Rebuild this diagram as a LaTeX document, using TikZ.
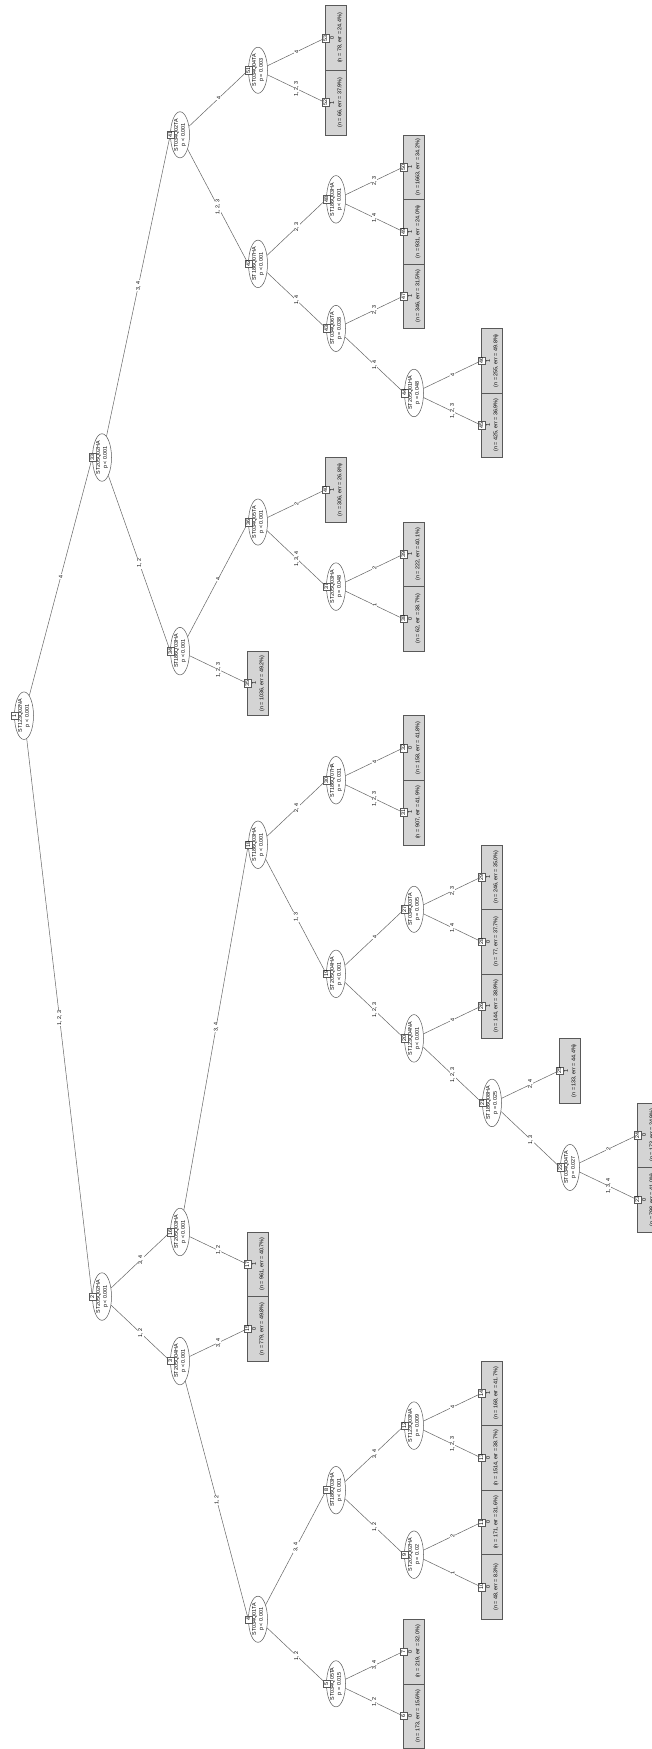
\documentclass[tikz,border=0pt]{standalone}
\usepackage{fontspec}
\setmainfont{Liberation Sans}
\usetikzlibrary{shapes.geometric}
\tikzset{
  innernode/.style={ellipse, draw=black!65, fill=white, line width=0.5pt, minimum width=45pt, minimum height=19pt, inner sep=0pt, rotate=90, align=center, font=\fontsize{5.4}{6.9}\selectfont},
  leafbox/.style={rectangle, draw=black!65, fill=black!17, line width=0.5pt, minimum width=64.54pt, minimum height=21pt, inner sep=0pt, rotate=90},
  idbox/.style={rectangle, draw=black!65, fill=white, line width=0.5pt, inner sep=0.8pt, minimum height=7pt, minimum width=7pt, rotate=90, font=\fontsize{5.4}{6}\selectfont},
  edgeline/.style={draw=black!60, line width=0.5pt},
  elabel/.style={fill=white, inner sep=0.6pt, rotate=90, font=\fontsize{5.4}{6}\selectfont},
  ltext/.style={rotate=90, inner sep=0pt, font=\fontsize{5.4}{6}\selectfont},
}
\newcommand\Inn[5]{\node[innernode] (n#1) at ({24+78*#2},{-(5.73+64.54*#3)}) {#4\\#5};}
\newcommand\Lf[6]{\node[leafbox] (n#1) at ({24+78*#2},{-(38+64.54*#3)}) {};
  \node[ltext] at ({24+78*#2-4},{-(38+64.54*#3)}) {#4};
  \node[ltext] at ({24+78*#2+4},{-(38+64.54*#3)}) {(n = #5, err = #6)};}
\newcommand\Ed[3]{\draw[edgeline] (n#1) -- (n#2.north) node[elabel, pos=0.5] {#3};}
\begin{document}
\begin{tikzpicture}[x=1pt,y=1pt]
\fill[white] (0,0) rectangle (651,-1749);
\useasboundingbox (0,0) rectangle (651,-1749);
% inner nodes: id, depth, t, variable, p
\Inn{1}{0}{11}{ST123Q02NA}{p < 0.001}
\Inn{2}{1}{20}{ST205Q02HA}{p < 0.001}
\Inn{3}{2}{21}{ST205Q04HA}{p < 0.001}
\Inn{4}{3}{25}{ST034Q01TA}{p < 0.001}
\Inn{5}{4}{26}{ST034Q05TA}{p = 0.015}
\Inn{8}{4}{23}{ST186Q03HA}{p < 0.001}
\Inn{9}{5}{24}{ST205Q02HA}{p = 0.02}
\Inn{12}{5}{22}{ST123Q03NA}{p = 0.009}
\Inn{16}{2}{19}{ST205Q03HA}{p < 0.001}
\Inn{18}{3}{13}{ST186Q03HA}{p < 0.001}
\Inn{19}{4}{15}{ST205Q04HA}{p < 0.001}
\Inn{20}{5}{16}{ST123Q04NA}{p < 0.001}
\Inn{21}{6}{17}{ST186Q08HA}{p = 0.025}
\Inn{22}{7}{18}{ST034Q04TA}{p = 0.027}
\Inn{27}{5}{14}{ST034Q03TA}{p = 0.005}
\Inn{30}{4}{12}{ST186Q07HA}{p = 0.031}
\Inn{33}{1}{7}{ST205Q02HA}{p < 0.001}
\Inn{34}{2}{10}{ST186Q03HA}{p < 0.001}
\Inn{36}{3}{8}{ST034Q05TA}{p < 0.001}
\Inn{37}{4}{9}{ST205Q03HA}{p = 0.048}
\Inn{41}{2}{2}{ST034Q02TA}{p < 0.001}
\Inn{42}{3}{4}{ST186Q07HA}{p < 0.001}
\Inn{43}{4}{5}{ST034Q06TA}{p = 0.038}
\Inn{44}{5}{6}{ST205Q01HA}{p = 0.048}
\Inn{48}{4}{3}{ST186Q03HA}{p < 0.001}
\Inn{51}{3}{1}{ST034Q04TA}{p = 0.003}
% leaves: id, depth, k, class, n, err
\Lf{53}{4}{0}{0}{78}{24.4\%}
\Lf{52}{4}{1}{1}{66}{37.9\%}
\Lf{50}{5}{2}{1}{1663}{34.2\%}
\Lf{49}{5}{3}{1}{931}{24.0\%}
\Lf{47}{5}{4}{1}{346}{31.5\%}
\Lf{46}{6}{5}{1}{255}{49.8\%}
\Lf{45}{6}{6}{1}{425}{36.9\%}
\Lf{40}{4}{7}{1}{306}{26.8\%}
\Lf{39}{5}{8}{1}{222}{40.1\%}
\Lf{38}{5}{9}{0}{62}{38.7\%}
\Lf{35}{3}{10}{1}{1036}{49.2\%}
\Lf{32}{5}{11}{0}{158}{41.8\%}
\Lf{31}{5}{12}{1}{907}{41.9\%}
\Lf{29}{6}{13}{1}{246}{35.0\%}
\Lf{28}{6}{14}{0}{77}{37.7\%}
\Lf{26}{6}{15}{1}{144}{38.9\%}
\Lf{25}{7}{16}{1}{133}{44.4\%}
\Lf{24}{8}{17}{0}{173}{24.9\%}
\Lf{23}{8}{18}{0}{798}{41.0\%}
\Lf{17}{3}{19}{1}{961}{40.7\%}
\Lf{15}{3}{20}{0}{779}{49.8\%}
\Lf{14}{6}{21}{1}{168}{41.7\%}
\Lf{13}{6}{22}{0}{1514}{38.7\%}
\Lf{11}{6}{23}{0}{171}{31.6\%}
\Lf{10}{6}{24}{0}{48}{8.3\%}
\Lf{7}{5}{25}{0}{219}{32.0\%}
\Lf{6}{5}{26}{0}{173}{15.6\%}
% edges
\Ed{1}{2}{1, 2, 3}\Ed{1}{33}{4}
\Ed{2}{3}{1, 2}\Ed{2}{16}{3, 4}
\Ed{3}{4}{1, 2}\Ed{3}{15}{3, 4}
\Ed{4}{5}{1, 2}\Ed{4}{8}{3, 4}
\Ed{5}{6}{1, 2}\Ed{5}{7}{3, 4}
\Ed{8}{9}{1, 2}\Ed{8}{12}{3, 4}
\Ed{9}{10}{1}\Ed{9}{11}{2}
\Ed{12}{13}{1, 2, 3}\Ed{12}{14}{4}
\Ed{16}{17}{1, 2}\Ed{16}{18}{3, 4}
\Ed{18}{19}{1, 3}\Ed{18}{30}{2, 4}
\Ed{19}{20}{1, 2, 3}\Ed{19}{27}{4}
\Ed{20}{21}{1, 2, 3}\Ed{20}{26}{4}
\Ed{21}{22}{1, 3}\Ed{21}{25}{2, 4}
\Ed{22}{23}{1, 3, 4}\Ed{22}{24}{2}
\Ed{27}{28}{1, 4}\Ed{27}{29}{2, 3}
\Ed{30}{31}{1, 2, 3}\Ed{30}{32}{4}
\Ed{33}{34}{1, 2}\Ed{33}{41}{3, 4}
\Ed{34}{35}{1, 2, 3}\Ed{34}{36}{4}
\Ed{36}{37}{1, 3, 4}\Ed{36}{40}{2}
\Ed{37}{38}{1}\Ed{37}{39}{2}
\Ed{41}{42}{1, 2, 3}\Ed{41}{51}{4}
\Ed{42}{43}{1, 4}\Ed{42}{48}{2, 3}
\Ed{43}{44}{1, 4}\Ed{43}{47}{2, 3}
\Ed{44}{45}{1, 2, 3}\Ed{44}{46}{4}
\Ed{48}{49}{1, 4}\Ed{48}{50}{2, 3}
\Ed{51}{52}{1, 2, 3}\Ed{51}{53}{4}
% id boxes
\foreach \i in {1,...,53}{\node[idbox] at (n\i.north) {\i};}
\end{tikzpicture}
\end{document}
